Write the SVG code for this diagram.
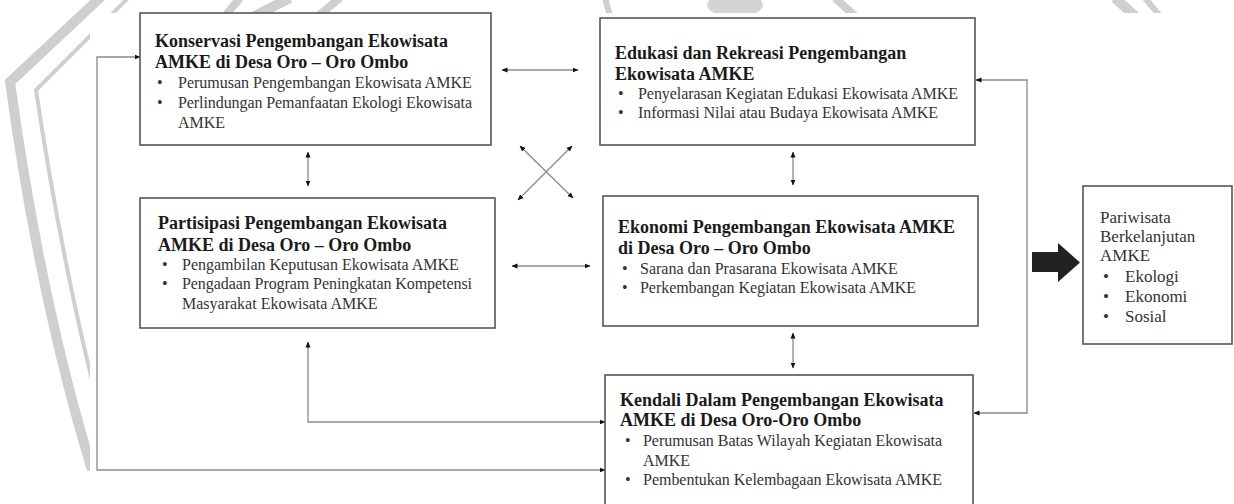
<svg xmlns="http://www.w3.org/2000/svg" width="1234" height="504" viewBox="0 0 1234 504">
<defs>
<style>
.box{fill:#fff;stroke:#555;stroke-width:1.6}
.t{font-family:"Liberation Serif","Times New Roman",serif;font-weight:bold;font-size:18px;fill:#1a1a1a}
.b{font-family:"Liberation Serif","Times New Roman",serif;font-size:16px;fill:#333}
.c{font-family:"Liberation Serif","Times New Roman",serif;font-size:17px;fill:#333}
.con{fill:none;stroke:#8a8a8a;stroke-width:1.3;marker-start:url(#ah);marker-end:url(#ah)}
.wm{fill:none;stroke:#cfcfcf}
</style>
<marker id="ah" viewBox="0 0 6 6" refX="5.5" refY="3" markerWidth="6" markerHeight="6" markerUnits="userSpaceOnUse" orient="auto-start-reverse">
<path d="M0,0.5 L6,3 L0,5.5 Z" fill="#111"/>
</marker>
<clipPath id="wmclip"><path clip-rule="evenodd" d="M0,0 H1234 V504 H0 Z M90,13 H1234 V504 H90 Z"/></clipPath>
</defs>
<rect width="1234" height="504" fill="#fff"/>
<g id="watermark" clip-path="url(#wmclip)">
<path class="wm" stroke-width="10" d="M102,-4 L10,82 Q40,300 92,470"/>
<path class="wm" stroke-width="4" d="M130,-4 L36,90 Q60,250 92,380"/>
<path class="wm" stroke-width="8" d="M240,-2 L225,16"/>
<path class="wm" stroke-width="10" d="M290,-2 Q270,8 255,16"/>
<path class="wm" stroke-width="8" d="M340,-2 L318,16"/>
<path class="wm" stroke-width="6" d="M605,-2 L610,16"/>
<ellipse cx="735" cy="5" rx="28" ry="12" fill="#d4d4d4"/>
<path class="wm" stroke-width="8" d="M835,-2 L855,16"/>
<path class="wm" stroke-width="10" d="M1115,-2 L1135,16"/>
<path class="wm" stroke-width="6" d="M1145,-2 L1160,16"/>
</g>
<g id="connectors">
<path class="con" d="M140,57 H97 V470 H605"/>
<path class="con" d="M976,80 H1027 V413 H974"/>
<path class="con" d="M502,70 H578"/>
<path class="con" d="M512,266 H590"/>
<path class="con" d="M308,152 V186"/>
<path class="con" d="M793,152 V185"/>
<path class="con" d="M793,333 V368"/>
<path class="con" d="M520,146 L573,198"/>
<path class="con" d="M572,146 L518,200"/>
<path class="con" d="M308,342 V422 H605"/>
</g>
<g id="konservasi">
<rect class="box" x="140" y="13" width="351" height="132"/>
<text class="t" x="155" y="47">Konservasi Pengembangan Ekowisata</text>
<text class="t" x="155" y="68">AMKE di Desa Oro – Oro Ombo</text>
<text class="b" x="157" y="88">•</text>
<text class="b" x="178" y="88">Perumusan Pengembangan Ekowisata AMKE</text>
<text class="b" x="157" y="108">•</text>
<text class="b" x="178" y="108" textLength="294" lengthAdjust="spacing">Perlindungan Pemanfaatan Ekologi Ekowisata</text>
<text class="b" x="178" y="128">AMKE</text>
</g>
<g id="edukasi">
<rect class="box" x="600" y="18" width="375" height="127"/>
<text class="t" x="615" y="59">Edukasi dan Rekreasi Pengembangan</text>
<text class="t" x="615" y="80">Ekowisata AMKE</text>
<text class="b" x="618" y="99">•</text>
<text class="b" x="638" y="99" textLength="320" lengthAdjust="spacing">Penyelarasan Kegiatan Edukasi Ekowisata AMKE</text>
<text class="b" x="618" y="118">•</text>
<text class="b" x="638" y="118" textLength="300" lengthAdjust="spacing">Informasi Nilai atau Budaya Ekowisata AMKE</text>
</g>
<g id="partisipasi">
<rect class="box" x="140" y="198" width="355" height="130"/>
<text class="t" x="158" y="229">Partisipasi Pengembangan Ekowisata</text>
<text class="t" x="158" y="251">AMKE di Desa Oro – Oro Ombo</text>
<text class="b" x="162" y="270">•</text>
<text class="b" x="182" y="270">Pengambilan Keputusan Ekowisata AMKE</text>
<text class="b" x="162" y="289">•</text>
<text class="b" x="182" y="289" textLength="290" lengthAdjust="spacing">Pengadaan Program Peningkatan Kompetensi</text>
<text class="b" x="182" y="309">Masyarakat Ekowisata AMKE</text>
</g>
<g id="ekonomi">
<rect class="box" x="603" y="196" width="375" height="130"/>
<text class="t" x="618" y="233" textLength="337" lengthAdjust="spacing">Ekonomi Pengembangan Ekowisata AMKE</text>
<text class="t" x="618" y="254">di Desa Oro – Oro Ombo</text>
<text class="b" x="622" y="274">•</text>
<text class="b" x="640" y="274">Sarana dan Prasarana Ekowisata AMKE</text>
<text class="b" x="622" y="293">•</text>
<text class="b" x="640" y="293" textLength="276" lengthAdjust="spacing">Perkembangan Kegiatan Ekowisata AMKE</text>
</g>
<g id="kendali">
<rect class="box" x="605" y="375" width="368" height="140"/>
<text class="t" x="620" y="406">Kendali Dalam Pengembangan Ekowisata</text>
<text class="t" x="620" y="426">AMKE di Desa Oro-Oro Ombo</text>
<text class="b" x="625" y="446">•</text>
<text class="b" x="643" y="446" textLength="299" lengthAdjust="spacing">Perumusan Batas Wilayah Kegiatan Ekowisata</text>
<text class="b" x="643" y="466">AMKE</text>
<text class="b" x="625" y="485">•</text>
<text class="b" x="643" y="485" textLength="299" lengthAdjust="spacing">Pembentukan Kelembagaan Ekowisata AMKE</text>
</g>
<g id="big-arrow">
<path d="M1032,252 H1058 V243 L1080,262.5 L1058,282 V272 H1032 Z" fill="#222"/>
</g>
<g id="pariwisata">
<rect class="box" x="1083" y="186" width="149" height="158"/>
<text class="c" x="1100" y="223">Pariwisata</text>
<text class="c" x="1100" y="242">Berkelanjutan</text>
<text class="c" x="1100" y="261">AMKE</text>
<text class="c" x="1103" y="282">•</text>
<text class="c" x="1125" y="282">Ekologi</text>
<text class="c" x="1103" y="302">•</text>
<text class="c" x="1125" y="302">Ekonomi</text>
<text class="c" x="1103" y="322">•</text>
<text class="c" x="1125" y="322">Sosial</text>
</g>
</svg>
